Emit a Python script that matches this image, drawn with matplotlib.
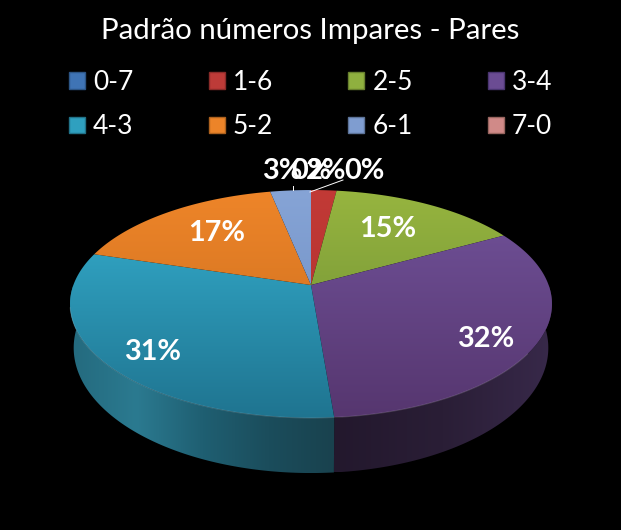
import numpy as np
import matplotlib
matplotlib.use('Agg')
import matplotlib.pyplot as plt
from matplotlib.patches import Patch, Polygon
from matplotlib.colors import LinearSegmentedColormap

title = 'Padrão números Impares - Pares'
categories = ['0-7', '1-6', '2-5', '3-4', '4-3', '5-2', '6-1', '7-0']
values = [0.0, 2.0, 15.0, 31.7, 31.0, 17.1, 3.2, 0.0]

# legend swatches
colors = ['#3f74b5', '#bd3b38', '#8fb03f', '#6b4c93', '#2fa0bf', '#ec8429', '#7f9dd0', '#d08a88']
edge_colors = ['#2c5585', '#8a2b29', '#68802e', '#4a3570', '#217288', '#ad611e', '#5c7398', '#98655f']
# top face gradient (far, near)
top_colors = [('#4a7ebc', '#4a7ebc'), ('#c23a36', '#b93532'), ('#97b53f', '#83a23a'),
              ('#6c4d92', '#56366f'), ('#2f9fbe', '#1f7490'), ('#ee8529', '#dd7a24'),
              ('#86a4d6', '#7a99cc'), ('#d08a88', '#d08a88')]
# side wall gradient, left to right
wall_colors = {3: ['#23182d', '#2a1e36', '#38294a'],
               4: ['#246a7e', '#2b7a90', '#1f5f72', '#1b4d5c', '#19424e']}

# label centres in pixels
label_pos = [(311, 171), (326, 171), (388, 229), (486, 339), (153, 352), (217, 233), (282, 171), (364, 171)]

W, H = 621, 530
cx, cy = 311, 285
rx, ry, k = 237.6, 110.8, 1 / 6
cy2, ry2, rx2 = 327, 121.7, 234


def rim(t, cy_=cy, rx_=rx, ry_=ry):
    # perspective view of a circle, t clockwise from the top
    u, v = np.sin(t), -np.cos(t)
    d = 1 - k * v
    return cx + rx_ * u / d, cy_ + ry_ * v / d


def gradient(ax, poly, stops, vertical):
    cmap = LinearSegmentedColormap.from_list('g', stops)
    xs, ys = poly[:, 0], poly[:, 1]
    g = np.linspace(0, 1, 256)
    g = g.reshape(-1, 1) if vertical else g.reshape(1, -1)
    im = ax.imshow(g, cmap=cmap, vmin=0, vmax=1, aspect='auto', origin='upper',
                   extent=(xs.min(), xs.max(), ys.max(), ys.min()), zorder=2, interpolation='bilinear')
    patch = Polygon(poly, closed=True, transform=ax.transData, fc='none', ec='none')
    ax.add_patch(patch)
    im.set_clip_path(patch)


fig = plt.figure(figsize=(W / 100, H / 100), dpi=100, facecolor='black')
ax = fig.add_axes([0, 0, 1, 1])
ax.set_facecolor('black')

edges = np.cumsum([0] + values) / sum(values) * 2 * np.pi

# side walls first, only the front part shows
for i, stops in wall_colors.items():
    a0, a1 = max(edges[i], np.pi / 2), min(edges[i + 1], 3 * np.pi / 2)
    t = np.linspace(a0, a1, 120)
    xt, yt = rim(t)
    xb, yb = rim(t, cy2, rx2, ry2)
    poly = np.column_stack([np.r_[xt, xb[::-1]], np.r_[yt, yb[::-1]]])
    gradient(ax, poly, stops, False)

# top faces
for i, v in enumerate(values):
    if v == 0:
        continue
    t = np.linspace(edges[i], edges[i + 1], 200)
    xt, yt = rim(t)
    poly = np.column_stack([np.r_[cx, xt], np.r_[cy, yt]])
    gradient(ax, poly, top_colors[i], True)

# thin highlight along the front rim
t = np.linspace(np.pi / 2 + 0.6, 3 * np.pi / 2 - 0.2, 200)
ax.plot(*rim(t), color='white', alpha=0.15, lw=0.8, zorder=3)

# data labels
for i, v in enumerate(values):
    ax.text(*label_pos[i], f'{v:.0f}%', color='white', ha='center', va='center',
            fontsize=20.8, fontweight='bold', family='Lato', zorder=5)

# leader lines
ax.plot([293, 293], [186, 190], color='white', lw=0.7, zorder=4)
ax.plot([310, 343], [192, 180], color='white', lw=0.7, zorder=4)

ax.set_xlim(0, W)
ax.set_ylim(H, 0)
ax.axis('off')

ax.text(310, 31, title, color='white', ha='center', va='center', fontsize=21.2, family='Lato')

handles = [Patch(fc=colors[i], ec=edge_colors[i], lw=1) for i in range(8)]
order = [0, 4, 1, 5, 2, 6, 3, 7]
fig.legend([handles[i] for i in order], [categories[i] for i in order],
           ncols=4, loc='upper left', bbox_to_anchor=(69 / W, 1 - 70 / H), frameon=False,
           labelcolor='white', prop={'family': 'Lato', 'size': 19},
           handlelength=0.61, handleheight=0.61, handletextpad=0.3,
           columnspacing=2.85, labelspacing=0.73, borderpad=0, borderaxespad=0)

fig.savefig('out.png', dpi=100, facecolor='black')
